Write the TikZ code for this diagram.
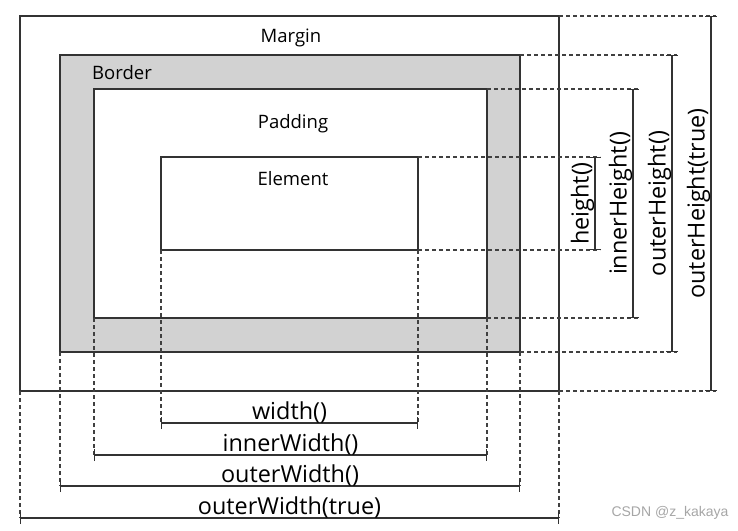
\documentclass[tikz,border=0pt]{standalone}
\usepackage{fontspec}
\setmainfont{Open Sans}
\newfontfamily\wmfont{Liberation Sans}
\usetikzlibrary{arrows.meta}
\begin{document}
\begin{tikzpicture}[x=1pt,y=-1pt,
  box/.style={draw=black!80, line width=1.4pt},
  guide/.style={draw=black!75, line width=1.2pt, dash pattern=on 4pt off 3pt},
  dim/.style={draw=black!80, line width=1.4pt, {Bar[width=12pt]}-{Bar[width=12pt]}},
  lbl/.style={font=\fontsize{18.5}{22}\selectfont, inner sep=0pt, anchor=base},
  dlbl/.style={font=\fontsize{23.4}{27}\selectfont, inner sep=0pt}]
\useasboundingbox (0,0) rectangle (738,530);
\coordinate (mar1) at (20,16);
\coordinate (mar2) at (559,391);
\coordinate (bor1) at (60,55);
\coordinate (bor2) at (520,352);
\coordinate (pad1) at (94,89);
\coordinate (pad2) at (487,318);
\coordinate (ele1) at (161,157);
\coordinate (ele2) at (418,250);
\coordinate (w1) at (161,423);
\coordinate (w2) at (418,423);
\coordinate (iw1) at (94,455);
\coordinate (iw2) at (487,455);
\coordinate (ow1) at (60,486);
\coordinate (ow2) at (520,486);
\coordinate (owt1) at (20,518);
\coordinate (owt2) at (559,518);
\coordinate (h1) at (595,157);
\coordinate (h2) at (595,250);
\coordinate (ih1) at (633,89);
\coordinate (ih2) at (633,318);
\coordinate (oh1) at (672,55);
\coordinate (oh2) at (672,352);
\coordinate (oht1) at (711,16);
\coordinate (oht2) at (711,391);
\draw[box] (mar1) rectangle (mar2);
\draw[box, fill=gray!35] (bor1) rectangle (bor2);
\draw[box, fill=white] (pad1) rectangle (pad2);
\draw[box] (ele1) rectangle (ele2);
\node[lbl] (margin) at (291,42) {Margin};
\node[lbl] (border) at (122,79) {Border};
\node[lbl] (padding) at (293,128) {Padding};
\node[lbl] (element) at (293,185) {Element};
\draw[guide] (ele1 |- ele2) -- (w1);
\draw[guide] (ele2) -- (w2);
\draw[guide] (pad1 |- pad2) -- (iw1);
\draw[guide] (pad2) -- (iw2);
\draw[guide] (bor1 |- bor2) -- (ow1);
\draw[guide] (bor2) -- (ow2);
\draw[guide] (mar1 |- mar2) -- (owt1);
\draw[guide] (mar2) -- (owt2);
\draw[guide, shorten >=-5pt] (ele2 |- ele1) -- (h1);
\draw[guide, shorten >=-5pt] (ele2) -- (h2);
\draw[guide, shorten >=-5pt] (pad2 |- pad1) -- (ih1);
\draw[guide, shorten >=-5pt] (pad2) -- (ih2);
\draw[guide, shorten >=-5pt] (bor2 |- bor1) -- (oh1);
\draw[guide, shorten >=-5pt] (bor2) -- (oh2);
\draw[guide, shorten >=-5pt] (mar2 |- mar1) -- (oht1);
\draw[guide, shorten >=-5pt] (mar2) -- (oht2);
\draw[dim] (w1) -- node[dlbl, anchor=base, yshift=4pt] (wlbl) {width()} (w2);
\draw[dim] (iw1) -- node[dlbl, anchor=base, yshift=3.5pt] (iwlbl) {innerWidth()} (iw2);
\draw[dim] (ow1) -- node[dlbl, anchor=base, yshift=3.5pt] (owlbl) {outerWidth()} (ow2);
\draw[dim] (owt1) -- node[dlbl, anchor=base, yshift=3.5pt] (owtlbl) {outerWidth(true)} (owt2);
\draw[dim] (h1) -- node[dlbl, above, rotate=90] (hlbl) {height()} (h2);
\draw[dim] (ih1) -- node[dlbl, above, rotate=90] (ihlbl) {innerHeight()} (ih2);
\draw[dim] (oh1) -- node[dlbl, above, rotate=90] (ohlbl) {outerHeight()} (oh2);
\draw[dim] (oht1) -- node[dlbl, above, rotate=90] (ohtlbl) {outerHeight(true)} (oht2);
\node[font=\wmfont\fontsize{14}{16}\selectfont, text=gray!70] (wm) at (670,513) {CSDN @z\_kakaya};
\end{tikzpicture}
\end{document}
